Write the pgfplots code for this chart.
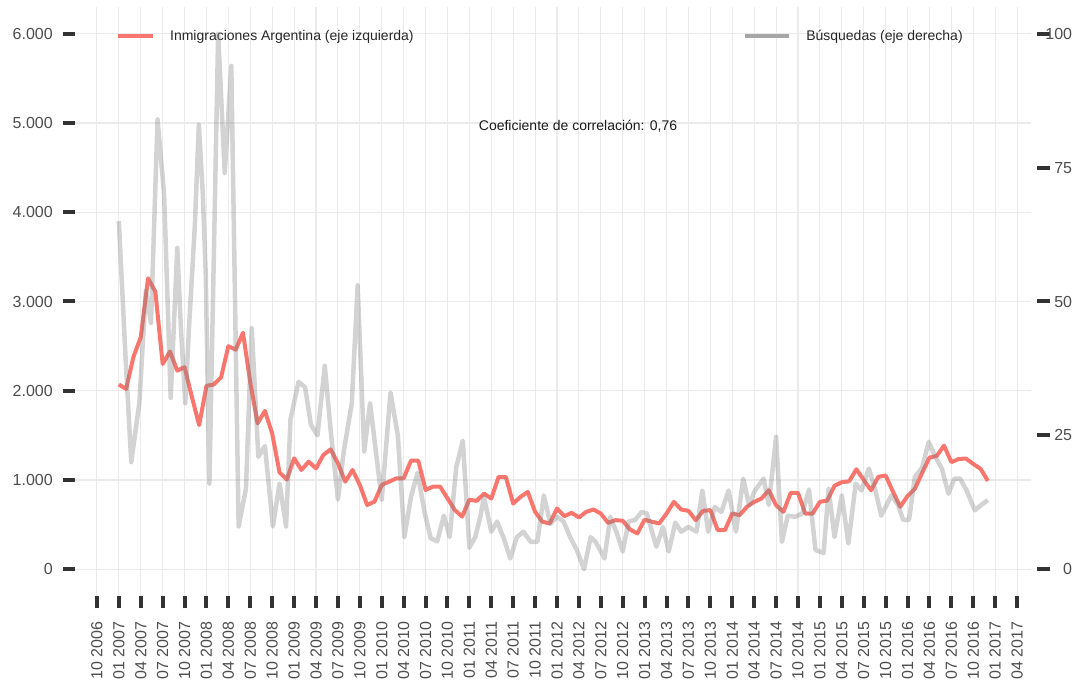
\documentclass[border=0pt]{standalone}
\usepackage{fontspec}
\setmainfont{Liberation Sans}
\usepackage{pgfplots}
\usepackage{pgfplotstable}
\pgfplotsset{compat=1.18}
\definecolor{redline}{HTML}{F8766D}
\definecolor{gridc}{HTML}{EBEBEB}
\definecolor{tickc}{HTML}{333333}
\definecolor{lblc}{HTML}{4D4D4D}
\definecolor{keygray}{HTML}{A6A6A6}

\pgfplotstableread{
m v
0 2070
1 2020
2 2380
3 2600
4 3260
5 3110
6 2300
7 2440
8 2225
9 2265
10 1930
11 1615
12 2055
13 2070
14 2150
15 2500
16 2460
17 2650
18 2090
19 1635
20 1775
21 1520
22 1085
23 1005
24 1243
25 1112
26 1205
27 1130
28 1280
29 1343
30 1187
31 981
32 1112
33 944
34 720
35 757
36 944
37 981
38 1018
39 1018
40 1216
41 1216
42 888
43 925
44 925
45 795
46 664
47 590
48 778
49 766
50 847
51 792
52 1033
53 1033
54 736
55 810
56 866
57 643
58 532
59 513
60 680
61 595
62 632
63 580
64 643
65 669
66 624
67 520
68 550
69 543
70 446
71 401
72 555
73 532
74 513
75 624
76 755
77 669
78 654
79 550
80 654
81 662
82 439
83 439
84 624
85 606
86 699
87 755
88 792
89 885
90 717
91 643
92 855
93 855
94 624
95 624
96 755
97 770
98 935
99 975
100 985
101 1120
102 1000
103 885
104 1035
105 1050
106 870
107 700
108 820
109 900
110 1080
111 1250
112 1270
113 1385
114 1200
115 1235
116 1240
117 1180
118 1125
119 990
}\inmig

\pgfplotstableread{
m v
0 65
0.9 40
1.7 20
2.8 31
3.7 52
4.4 46
5.3 84
6.2 70
7.1 32
8.0 60
8.5 45
9.1 31
9.6 45
10.4 64
10.95 83
11.5 70
11.9 55
12.4 16
13.6 100
14.5 74
15.4 94
16.4 8
17.4 15
18.2 45
19.1 21
20.0 23
21.1 8
22.0 16
22.9 8
23.5 28
24.6 35
25.5 34
26.3 27
27.2 25
28.2 38
29.0 26
30.0 13
30.8 22
31.9 31
32.7 53
33.6 22
34.4 31
35.2 22
36.0 13
37.2 33
38.2 25
39.1 6
40.0 13.5
40.9 18
41.9 10.4
42.7 5.8
43.6 5.2
44.5 10
45.3 6
46.2 19
47.1 24
48.0 4
48.8 6
49.5 9.8
50.0 13.5
51.0 7
51.8 8.9
52.7 5.8
53.6 2
54.5 6
55.4 7
56.4 5.1
57.3 5.1
58.2 13.8
59.1 8.5
60.0 9.8
60.9 8.9
61.8 6
62.7 3.6
63.7 0
64.6 6
65.3 5.1
66.5 2
67.3 9.8
68.2 6.7
69.0 3.3
69.8 8.9
70.7 9.2
71.6 10.7
72.3 10.4
73.6 4.2
74.5 7.9
75.3 3.3
76.2 8.7
77.0 7
78.0 7.9
79.1 7
79.9 14.7
80.7 7
81.6 11.6
82.5 10.7
83.5 14.7
84.5 7
85.5 16.9
86.3 12
87.1 14.7
88.3 16.9
89.0 12
90.0 24.7
90.8 5.1
91.6 10
92.6 9.8
93.6 10.4
94.5 14.9
95.4 3.6
96.5 3
97.2 15
98.0 6
99.0 13.8
99.9 4.8
100.9 16
101.7 14.7
102.7 18.8
103.6 14.7
104.4 10
105.8 13.8
106.7 12
107.4 9.2
108.2 9.2
109.0 17.2
110.0 19
110.9 23.8
111.8 21
112.7 18.8
113.6 14.1
114.4 16.9
115.2 16.9
116.1 14.7
117.2 11
118.1 12
119.0 12.9
}\busq

\begin{document}
\begin{tikzpicture}
\path[use as bounding box] (0,0) rectangle (1079pt,682pt);
\begin{axis}[
  at={(75.4pt,86pt)}, anchor=south west, scale only axis,
  width=955.9pt, height=589pt,
  xmin=-5.95, xmax=124.95, ymin=-300, ymax=6300,
  axis line style={draw=none},
  xtick={-3,0,...,123},
  xticklabels={10 2006,01 2007,04 2007,07 2007,10 2007,01 2008,04 2008,07 2008,10 2008,01 2009,04 2009,07 2009,10 2009,01 2010,04 2010,07 2010,10 2010,01 2011,04 2011,07 2011,10 2011,01 2012,04 2012,07 2012,10 2012,01 2013,04 2013,07 2013,10 2013,01 2014,04 2014,07 2014,10 2014,01 2015,04 2015,07 2015,10 2015,01 2016,04 2016,07 2016,10 2016,01 2017,04 2017},
  ytick={0,1000,...,6000},
  xtick pos=left, ytick pos=left,
  tick align=outside,
  major tick length=12.5pt,
  tick style={line width=4pt, color=tickc},
  grid=major, major grid style={line width=1.1pt, color=gridc},
  yticklabel style={font=\fontsize{16}{19}\selectfont, color=lblc, inner sep=0pt,
    /pgf/number format/1000 sep={.}, /pgf/number format/assume math mode=true},
  yticklabel shift=10pt,
  xticklabel style={rotate=90, anchor=east, font=\fontsize{16}{19}\selectfont, color=lblc, inner sep=0pt},
  xticklabel shift=13pt,
  legend style={at={(0.0424,0.9508)}, anchor=west, draw=none, fill=none, inner sep=0pt,
    font=\fontsize{14}{17}\selectfont, text=black!85, nodes={inner sep=0pt},
    /tikz/every odd column/.append style={column sep=15pt}},
  legend image code/.code={\draw[#1, line width=4pt] (0pt,0pt) -- (35pt,0pt);},
]
\addplot[redline, line width=4pt, line join=round] table[x=m, y=v] {\inmig};
\addlegendentry{Inmigraciones Argentina (eje izquierda)}
\node[font=\fontsize{14}{17}\selectfont, text=black!90] at (axis description cs:0.5258,0.798) {Coeficiente de correlación: 0,76};
\end{axis}
\begin{axis}[
  at={(75.4pt,86pt)}, anchor=south west, scale only axis,
  width=961.9pt, height=589pt,
  xmin=-5.95, xmax=125.77, ymin=-5, ymax=105,
  hide x axis,
  axis line style={draw=none},
  ytick={0,25,50,75,100},
  ytick pos=right, yticklabel pos=right,
  tick align=outside,
  major tick length=13pt,
  tick style={line width=4pt, color=tickc},
  yticklabel style={font=\fontsize{16}{19}\selectfont, color=lblc, inner sep=0pt, anchor=east,
    /pgf/number format/assume math mode=true},
  yticklabel shift=22pt,
  legend style={at={(0.6941,0.9508)}, anchor=west, draw=none, fill=none, inner sep=0pt,
    font=\fontsize{14}{17}\selectfont, text=black!85, nodes={inner sep=0pt},
    /tikz/every odd column/.append style={column sep=15pt}},
  legend image code/.code={\draw[#1] (0pt,0pt) -- (44pt,0pt);},
]
\addplot[black!50, draw opacity=0.35, line width=4.5pt, line join=round, forget plot] table[x=m, y=v] {\busq};
\addlegendimage{draw=keygray, line width=4pt}
\addlegendentry{Búsquedas (eje derecha)}
\end{axis}
\end{tikzpicture}
\end{document}
